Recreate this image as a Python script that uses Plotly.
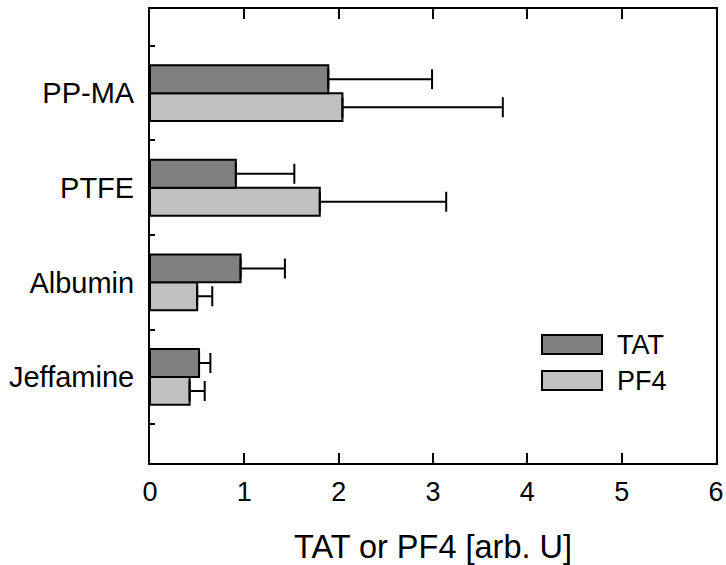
import plotly.graph_objects as go

categories = ["Jeffamine", "Albumin", "PTFE", "PP-MA"]
tat_values = [0.52, 0.96, 0.91, 1.89]
tat_errors = [0.12, 0.47, 0.62, 1.10]
pf4_values = [0.42, 0.50, 1.80, 2.04]
pf4_errors = [0.16, 0.16, 1.34, 1.70]
x_ticks = [0, 1, 2, 3, 4, 5, 6]

FONT = "Liberation Sans, Arial, sans-serif"
TAT_COLOR = "#808080"
PF4_COLOR = "#c0c0c0"

fig = go.Figure()
fig.add_trace(go.Bar(
    name="PF4", y=categories, x=pf4_values, orientation="h",
    marker=dict(color=PF4_COLOR, line=dict(color="black", width=2)),
    error_x=dict(type="data", symmetric=False, array=pf4_errors,
                 arrayminus=[0] * len(pf4_errors), color="black",
                 thickness=2, width=10),
    showlegend=False,
))
fig.add_trace(go.Bar(
    name="TAT", y=categories, x=tat_values, orientation="h",
    marker=dict(color=TAT_COLOR, line=dict(color="black", width=2)),
    error_x=dict(type="data", symmetric=False, array=tat_errors,
                 arrayminus=[0] * len(tat_errors), color="black",
                 thickness=2, width=10),
    showlegend=False,
))

W, H = 726, 565
ml, mr, mt, mb = 150, 10, 9, 102
pw, ph = W - ml - mr, H - mt - mb

def px(x):
    return (x - ml) / pw

def py(y):
    return (H - mb - y) / ph

# manual legend (screen coordinates of the reference)
legend_items = [("TAT", TAT_COLOR, 335, 354), ("PF4", PF4_COLOR, 371, 390)]
for label, color, y0, y1 in legend_items:
    fig.add_shape(type="rect", xref="paper", yref="paper",
                  x0=px(542), x1=px(602), y0=py(y1), y1=py(y0),
                  fillcolor=color, line=dict(color="black", width=2))
    fig.add_annotation(xref="paper", yref="paper", x=px(615), y=py((y0 + y1) / 2),
                       text=label, showarrow=False, xanchor="left", yanchor="middle",
                       font=dict(family=FONT, size=27, color="black"))

fig.update_layout(
    width=W, height=H,
    margin=dict(l=ml, r=mr, t=mt, b=mb, autoexpand=False),
    plot_bgcolor="white", paper_bgcolor="white",
    barmode="group", bargap=0.41, bargroupgap=0,
    font=dict(family=FONT, size=27, color="black"),
    xaxis=dict(
        range=[0, 6], tickvals=x_ticks, ticks="inside", ticklen=10, tickwidth=2,
        tickcolor="black", showline=True, linecolor="black", linewidth=2,
        mirror="ticks", showgrid=False, zeroline=False,
        tickfont=dict(family=FONT, size=27), ticklabelstandoff=4,
        title=dict(text="TAT or PF4 [arb. U]", font=dict(family=FONT, size=32.5), standoff=29),
        automargin=False,
    ),
    yaxis=dict(
        type="category", categoryorder="array", categoryarray=categories,
        range=[-0.91, 3.89], ticks="inside", ticklen=5, tickwidth=2, tickcolor="black",
        tickson="boundaries", showline=True, linecolor="black", linewidth=2,
        mirror=True, showgrid=False, zeroline=False,
        tickfont=dict(family=FONT, size=29), ticklabelstandoff=8,
        automargin=False,
    ),
)

fig.write_html(
    "out.html",
    config={"displayModeBar": False},
    post_script="document.body.style.margin='0';document.body.style.overflow='hidden';",
)
